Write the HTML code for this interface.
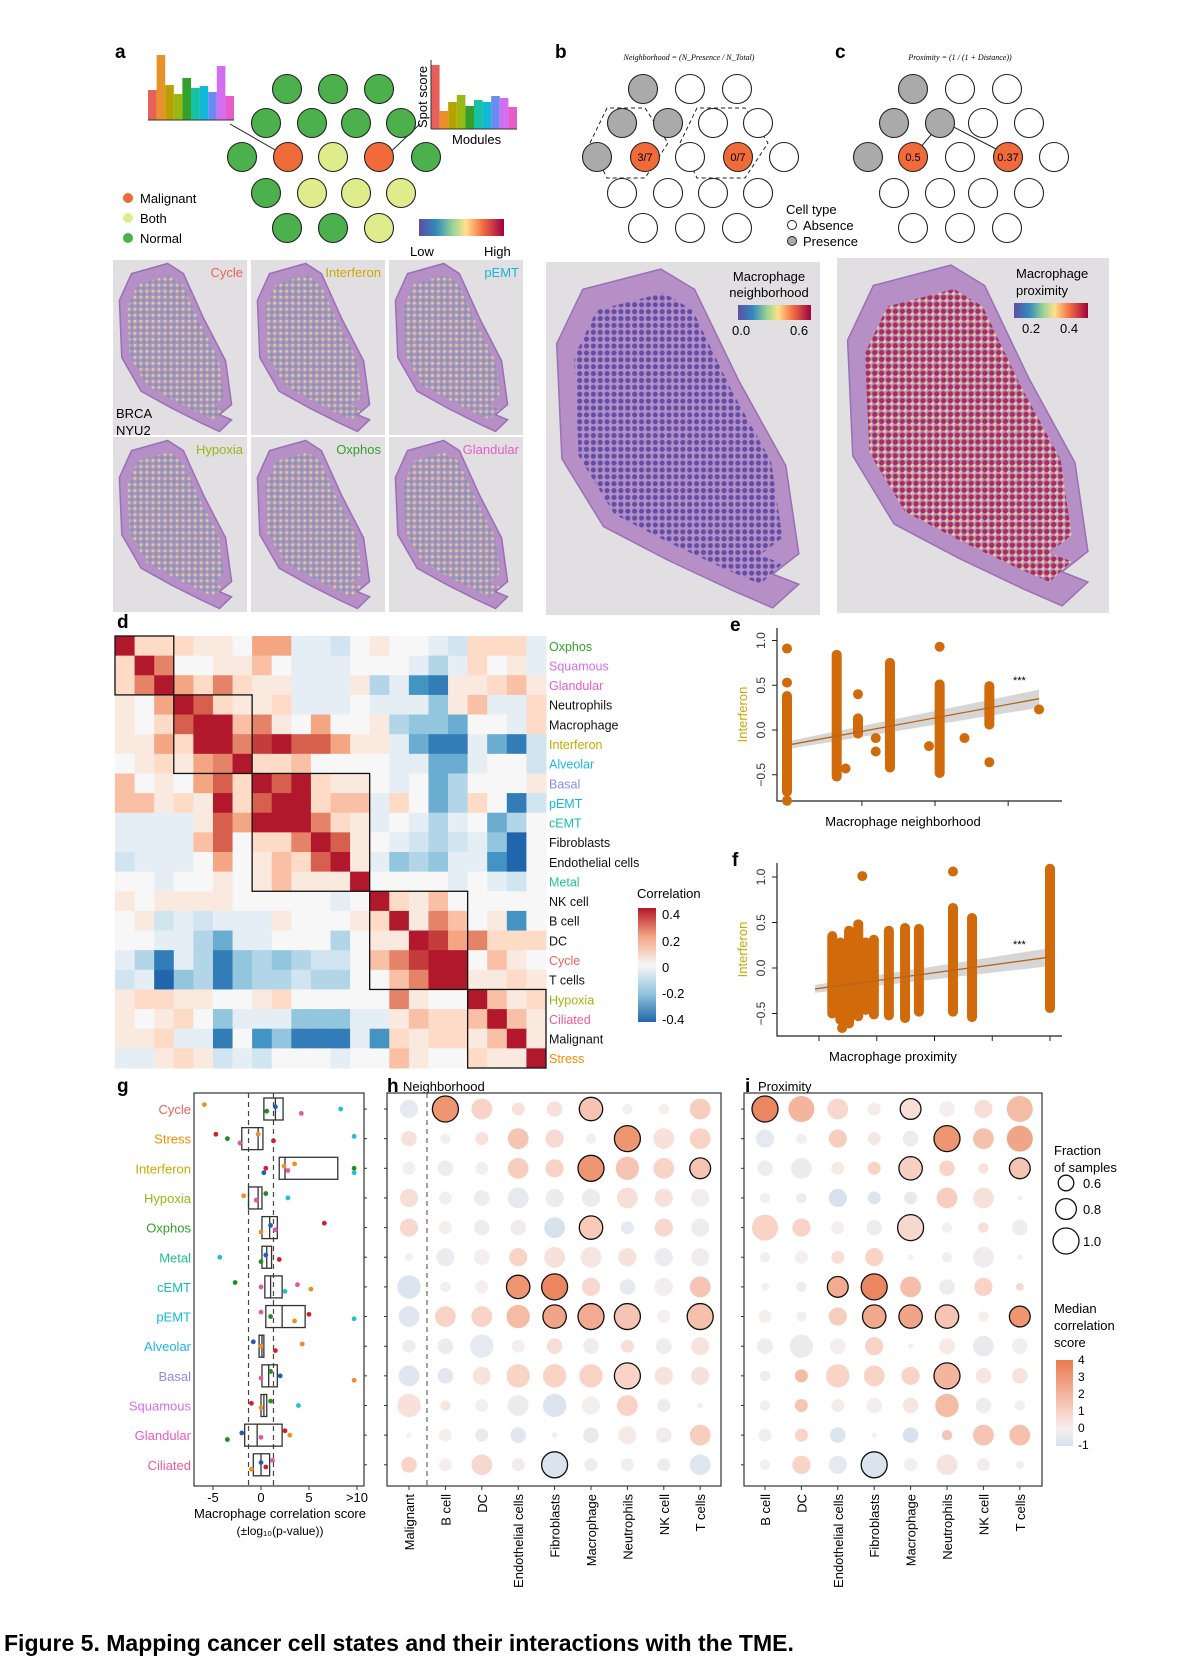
<!DOCTYPE html>
<html><head><meta charset="utf-8"><style>
html,body{margin:0;padding:0;background:#fff}
svg{display:block;font-family:"Liberation Sans",Arial,sans-serif}
</style></head><body>
<svg id="fig" width="1187" height="1671" viewBox="0 0 1187 1671" xmlns="http://www.w3.org/2000/svg">
<defs>
<pattern id="pa" width="7" height="7" patternUnits="userSpaceOnUse"><circle cx="2" cy="2" r="1.6" fill="#e8e27a"/><circle cx="5.5" cy="5.5" r="1.6" fill="#3fae9a"/></pattern>
<pattern id="pb" width="8" height="8" patternUnits="userSpaceOnUse"><circle cx="3" cy="3" r="3" fill="#4b3fa0"/></pattern>
<pattern id="pc" width="8" height="8" patternUnits="userSpaceOnUse"><circle cx="3" cy="3" r="3" fill="#a8123f"/><circle cx="7" cy="7" r="2.5" fill="#f0e27a"/></pattern>
<linearGradient id="rainbow" x1="0" x2="1" y1="0" y2="0"><stop offset="0" stop-color="#5e4fa2"/><stop offset="0.2" stop-color="#3288bd"/><stop offset="0.4" stop-color="#99d594"/><stop offset="0.55" stop-color="#fee08b"/><stop offset="0.75" stop-color="#f46d43"/><stop offset="1" stop-color="#9e0142"/></linearGradient>
<linearGradient id="rdbu" x1="0" x2="0" y1="0" y2="1"><stop offset="0" stop-color="#b2182b"/><stop offset="0.25" stop-color="#f4a582"/><stop offset="0.5" stop-color="#f7f7f7"/><stop offset="0.75" stop-color="#92c5de"/><stop offset="1" stop-color="#2166ac"/></linearGradient>
<linearGradient id="medgrad" x1="0" x2="0" y1="0" y2="1"><stop offset="0" stop-color="#e8794e"/><stop offset="0.6" stop-color="#f8d3c6"/><stop offset="0.8" stop-color="#f5eeee"/><stop offset="1" stop-color="#d6e3ef"/></linearGradient>
</defs>

<!-- panel a -->
<text x="115" y="58" font-size="19" font-weight="bold">a</text>
<g>
<rect x="148" y="90" width="8.6" height="30" fill="#e8605a"/><rect x="156.6" y="55" width="8.6" height="65" fill="#e8902a"/><rect x="165.2" y="85" width="8.6" height="35" fill="#b8a000"/><rect x="173.8" y="94" width="8.6" height="26" fill="#9ab812"/><rect x="182.4" y="78" width="8.6" height="42" fill="#33a02c"/><rect x="191" y="88" width="8.6" height="32" fill="#17c2a4"/><rect x="199.6" y="86" width="8.6" height="34" fill="#11b8d8"/><rect x="208.2" y="92" width="8.6" height="28" fill="#6a8cf0"/><rect x="216.8" y="66" width="8.6" height="54" fill="#d36ef0"/><rect x="225.4" y="96" width="8.6" height="24" fill="#e75cc8"/>
<line x1="148" y1="120" x2="234" y2="120" stroke="#333"/></g>
<g>
<rect x="431" y="65" width="8.6" height="64" fill="#e8605a"/><rect x="439.6" y="111" width="8.6" height="18" fill="#e8902a"/><rect x="448.2" y="102" width="8.6" height="27" fill="#b8a000"/><rect x="456.8" y="95" width="8.6" height="34" fill="#9ab812"/><rect x="465.4" y="106" width="8.6" height="23" fill="#33a02c"/><rect x="474" y="100" width="8.6" height="29" fill="#17c2a4"/><rect x="482.6" y="102" width="8.6" height="27" fill="#11b8d8"/><rect x="491.2" y="96" width="8.6" height="33" fill="#6a8cf0"/><rect x="499.8" y="98" width="8.6" height="31" fill="#d36ef0"/><rect x="508.4" y="107" width="8.6" height="22" fill="#e75cc8"/>
<line x1="431" y1="129" x2="517" y2="129" stroke="#333"/><line x1="431" y1="60" x2="431" y2="129" stroke="#333"/></g>
<text transform="translate(427,128) rotate(-90)" font-size="13">Spot score</text>
<text x="452" y="144" font-size="13">Modules</text>
<line x1="230" y1="124" x2="284" y2="155" stroke="#222"/>
<line x1="420" y1="124" x2="382" y2="160" stroke="#222"/>
<g id="hexA"></g>
<g>
<circle cx="128" cy="198" r="5" fill="#f06a3a"/><text x="140" y="203" font-size="13">Malignant</text>
<circle cx="128" cy="218" r="5" fill="#dfec8c"/><text x="140" y="223" font-size="13">Both</text>
<circle cx="128" cy="238" r="5" fill="#4cb04c"/><text x="140" y="243" font-size="13">Normal</text></g>
<rect x="419" y="219" width="85" height="17" fill="url(#rainbow)"/>
<text x="410" y="256" font-size="13">Low</text>
<text x="484" y="256" font-size="13">High</text>

<!-- panel b -->
<text x="555" y="58" font-size="19" font-weight="bold">b</text>
<text x="689" y="60" font-size="8" font-style="italic" font-family="Liberation Serif,serif" text-anchor="middle">Neighborhood = (N_Presence / N_Total)</text>
<path d="M590,143 L607,108 L645,108 L668,143 L645,178 L607,178 Z M680,143 L697,108 L745,108 L768,143 L745,178 L697,178 Z" fill="none" stroke="#222" stroke-dasharray="4,3"/>
<g id="hexB"></g>
<g>
<text x="786" y="214" font-size="13">Cell type</text>
<circle cx="792" cy="225" r="4.5" fill="#fff" stroke="#222"/><text x="803" y="230" font-size="13">Absence</text>
<circle cx="792" cy="241" r="4.5" fill="#aaa" stroke="#222"/><text x="803" y="246" font-size="13">Presence</text></g>

<!-- panel c -->
<text x="835" y="58" font-size="19" font-weight="bold">c</text>
<text x="960" y="60" font-size="8" font-style="italic" font-family="Liberation Serif,serif" text-anchor="middle">Proximity = (1 / (1 + Distance))</text>
<line x1="940" y1="124" x2="920" y2="148" stroke="#222"/>
<line x1="944" y1="122" x2="998" y2="150" stroke="#222"/>
<g id="hexC"></g>

<!-- tissue images -->
<g id="tissues"></g>

<!-- heatmap d -->
<text x="117" y="628" font-size="19" font-weight="bold">d</text>
<g id="heat"></g>
<g>
<text x="637" y="898" font-size="13">Correlation</text>
<rect x="638" y="908" width="18" height="114" fill="url(#rdbu)"/>
<text x="662" y="919" font-size="13">0.4</text><text x="662" y="946" font-size="13">0.2</text><text x="662" y="972" font-size="13">0</text><text x="662" y="998" font-size="13">-0.2</text><text x="662" y="1024" font-size="13">-0.4</text></g>

<!-- scatter e,f -->
<text x="730" y="631" font-size="19" font-weight="bold">e</text>
<text x="732" y="866" font-size="19" font-weight="bold">f</text>
<g id="scE"></g>
<g id="scF"></g>

<!-- g h i -->
<text x="117" y="1092" font-size="19" font-weight="bold">g</text>
<text x="387" y="1092" font-size="19" font-weight="bold">h</text>
<text x="403" y="1091" font-size="13">Neighborhood</text>
<text x="745" y="1092" font-size="19" font-weight="bold">i</text>
<text x="758" y="1091" font-size="13">Proximity</text>
<g id="boxg"></g>
<g id="doth"></g>
<g id="doti"></g>
<g>
<text x="1054" y="1155" font-size="13">Fraction</text><text x="1054" y="1172" font-size="13">of samples</text>
<circle cx="1066" cy="1183" r="7.8" fill="none" stroke="#111" stroke-width="1.3"/><text x="1083" y="1188" font-size="13">0.6</text>
<circle cx="1066" cy="1209" r="10.4" fill="none" stroke="#111" stroke-width="1.3"/><text x="1083" y="1214" font-size="13">0.8</text>
<circle cx="1066" cy="1241" r="13" fill="none" stroke="#111" stroke-width="1.3"/><text x="1083" y="1246" font-size="13">1.0</text></g>
<g>
<text x="1054" y="1313" font-size="13">Median</text><text x="1054" y="1330" font-size="13">correlation</text><text x="1054" y="1347" font-size="13">score</text>
<rect x="1056" y="1360" width="17" height="86" fill="url(#medgrad)"/>
<text x="1078" y="1364" font-size="12">4</text><text x="1078" y="1381" font-size="12">3</text><text x="1078" y="1398" font-size="12">2</text><text x="1078" y="1415" font-size="12">1</text><text x="1078" y="1432" font-size="12">0</text><text x="1078" y="1449" font-size="12">-1</text></g>

<text x="4" y="1651" font-size="23" font-weight="bold">Figure 5. Mapping cancer cell states and their interactions with the TME.</text>
</svg>
<script>
const NS='http://www.w3.org/2000/svg';
function mk(t,p,a){const e=document.createElementNS(NS,t);for(const k in a)e.setAttribute(k,a[k]);p.appendChild(e);return e;}
function txt(p,x,y,s,a){const e=mk('text',p,Object.assign({x:x,y:y},a||{}));e.textContent=s;return e;}

/* ---------- hexagon spot diagrams ---------- */
const hexRowsY=[89,123,157,193,228];
const hexA=[[287,333,379],[266,312,356,401],[242,288,333,379,426],[266,312,356,401],[287,333,379]];
const hexAcol=[['g','g','g'],['g','g','g','g'],['g','m','b','m','g'],['g','b','b','b'],['g','g','b']];
const hexB=[[643,690,737],[622,668,713,758],[597,645,690,738,784],[622,668,713,758],[643,690,737]];
const hexC=[[913,960,1007],[894,940,983,1029],[868,913,960,1008,1054],[894,940,983,1029],[913,960,1007]];
const hexBCcol=[['p','w','w'],['p','p','w','w'],['p','m','w','m','w'],['w','w','w','w'],['w','w','w']];
const hexBlabels={'2-1':'3/7','2-3':'0/7'};
const hexClabels={'2-1':'0.5','2-3':'0.37'};
const fillMap={g:'#4cb04c',m:'#f06a3a',b:'#dfec8c',p:'#aaaaaa',w:'#ffffff'};
function drawHex(id,xs,cols,labels){
  const g=document.getElementById(id);
  xs.forEach((row,i)=>row.forEach((x,j)=>{
    const c=mk('circle',g,{cx:x,cy:hexRowsY[i],r:14.5,fill:fillMap[cols[i][j]],stroke:'#222','stroke-width':1.1});
    
    
    const L=labels&&labels[i+'-'+j];
    if(L){const t=txt(g,x,hexRowsY[i]+4,L,{'font-size':11,'text-anchor':'middle'});
      
      }
  }));
}
drawHex('hexA',hexA,hexAcol,null);
drawHex('hexB',hexB,hexBCcol,hexBlabels);
drawHex('hexC',hexC,hexBCcol,hexClabels);

/* ---------- tissue images ---------- */
const blob=[[0.12,0.06],[0.42,0.0],[0.55,0.06],[0.72,0.33],[0.9,0.58],[0.95,0.84],[0.85,0.9],[0.95,0.93],[0.85,1.0],[0.7,0.95],[0.45,0.86],[0.2,0.76],[0.04,0.56],[0.02,0.22]];
function tissue(x,y,w,h,pat,inset){
  const g=document.getElementById('tissues');
  const bg=mk('rect',g,{x:x,y:y,width:w,height:h,fill:'#e2dfe2'});
  
  
  const ix=x+w*inset[0],iy=y+h*inset[1],iw=w*inset[2],ih=h*inset[3];
  const d='M'+blob.map(p=>(ix+p[0]*iw).toFixed(1)+','+(iy+p[1]*ih).toFixed(1)).join(' L')+' Z';
  const t=mk('path',g,{d:d,fill:'#b58fc6',stroke:'#9a70b5','stroke-width':1.5});
  
  
  const s=mk('path',g,{d:d,fill:'url(#'+pat+')',opacity:0.8,transform:'translate('+(ix+iw/2)+','+(iy+ih/2)+') scale(0.86) translate('+(-(ix+iw/2))+','+(-(iy+ih/2))+')'});
  
  
}
const smallX=[113,251,389],smallY=[260,437],smallW=136,smallH=177;
const smallLabels=[['Cycle','#f0605a'],['Interferon','#c9a800'],['pEMT','#11b8d8'],['Hypoxia','#9ab812'],['Oxphos','#33a02c'],['Glandular','#e75cc8']];
smallY.forEach((yy,r)=>smallX.forEach((xx,c)=>{
  tissue(xx,yy,smallW-2,smallH-2,'pa',[0.03,0.02,0.9,0.96]);
  const L=smallLabels[r*3+c];
  const t=txt(document.getElementById('tissues'),xx+smallW-6,yy+17,L[0],{'font-size':13,'text-anchor':'end',fill:L[1]});
  
  
}));
(function(){const g=document.getElementById('tissues');
 const a=txt(g,116,418,'BRCA',{'font-size':13});
 const b=txt(g,116,435,'NYU2',{'font-size':13});})();
tissue(546,262,274,353,'pb',[0.02,0.02,0.95,0.96]);
tissue(837,258,272,355,'pc',[0.02,0.02,0.95,0.96]);
(function(){const g=document.getElementById('tissues');
 const items=[[769,281,'Macrophage','middle'],[769,297,'neighborhood','middle'],[1016,278,'Macrophage','start'],[1016,295,'proximity','start']];
 items.forEach(it=>{const t=txt(g,it[0],it[1],it[2],{'font-size':13,'text-anchor':it[3]});});
 const r1=mk('rect',g,{x:738,y:305,width:73,height:15,fill:'url(#rainbow)'});
 const r2=mk('rect',g,{x:1014,y:303,width:74,height:15,fill:'url(#rainbow)'});
 [[732,335,'0.0'],[790,335,'0.6'],[1022,333,'0.2'],[1060,333,'0.4']].forEach(it=>{const t=txt(g,it[0],it[1],it[2],{'font-size':13});});
})();

/* ---------- heatmap d ---------- */
const heatLabels=['Oxphos','Squamous','Glandular','Neutrophils','Macrophage','Interferon','Alveolar','Basal','pEMT','cEMT','Fibroblasts','Endothelial cells','Metal','NK cell','B cell','DC','Cycle','T cells','Hypoxia','Ciliated','Malignant','Stress'];
const heatLabelColors=['#33a02c','#d36ef0','#e75cc8','#111','#111','#c9a800','#1fb5e8','#8c8cf0','#11b8d8','#17c2a4','#111','#111','#22c08f','#111','#111','#111','#f0605a','#111','#9ab812','#f05a9a','#111','#f08c00'];
// correlation x10
const heatValues=[
[4,1,1,1,0.5,0.5,0,2,2,-0.5,-0.5,-1,0,0.5,0,0,-0.5,-1,1,1,1,-0.5],
[1,4,2.5,0,0,0.5,0.5,1.5,0,-0.5,-0.5,-0.5,0,0,0,-0.5,-1.5,-0.5,1,0,0.5,-0.5],
[1,2.5,4,2,1,2.5,1,0.5,0.5,-0.5,-0.5,-0.5,0.5,-1.5,-0.5,-3,-3.5,0.5,0.5,1,1.5,0.5],
[0.5,0,2,4,3,1,0.5,0.5,1,-0.5,-0.5,-0.5,0,-0.5,-0.5,-0.5,-2,0.5,1.5,-0.5,-0.5,1],
[0.5,0,1,3,4,4,1.5,2.5,0.5,0,2,0,0,0.5,-1.5,-2,-2,-2.5,0,0,-0.5,1],
[0.5,0.5,2,1,4,4,2.5,3.5,4,3,3,2,0.5,0.5,-0.5,-2.5,-3.5,-3.5,-0.5,-2.5,-3.5,-1],
[0,0.5,1,0.5,2,2.5,4,1,1,1.5,0,0,0,0,-0.5,-0.5,-2.5,-2.5,-0.5,0,0,-1],
[1.5,0,0.5,0,2,3,1,4,3,4,1,0.5,0.5,0,-0.5,0,-2.5,-1.5,0,0,0,0.5],
[1.5,1.5,0.5,1,0.5,4,1,3,4,4,1,1.5,1.5,-0.5,1,0,-2.5,-1.5,1,0,-3.5,-1],
[-0.5,-0.5,-0.5,-0.5,0.5,3,2,4,4,4,2.5,1,0.5,-0.5,0,-0.5,-1.5,-0.5,0,-2.5,-1.5,0],
[-0.5,-0.5,-0.5,-0.5,1.5,3,0,1,1,2.5,4,3,0.5,0,-0.5,-1,-1.5,-1,-0.5,-2,-4,0],
[-1,-0.5,-0.5,-0.5,0,2,0,0.5,1.5,1,3,4,0.5,-0.5,-2,-1.5,-2,-0.5,-0.5,-3,-4,0],
[0,0,-0.5,0,0,0.5,0,0.5,1.5,0.5,0.5,0.5,4,0,0,0,0,-0.5,0,-0.5,-1,0],
[0.5,0,0.5,0.5,0.5,0.5,0,0,0,0,0,-0.5,0,4,1,0.5,1.5,0,0,0,0,0],
[0,0.5,-1,-0.5,-1,-0.5,-0.5,-0.5,0.5,0,0,0,0.5,1,4,0.5,2.5,1.5,0,0.5,-3,0],
[0,0,-0.5,-0.5,-1.5,-2.5,-0.5,-0.5,0,0,0,-1.5,0,0.5,0.5,4,3.5,2,2.5,1,1,1],
[-0.5,-1.5,-3.5,-0.5,-1.5,-3.5,-2,-1.5,-2,-1.5,-1,-1,0,1.5,2.5,3.5,4,4,0,1.5,0.5,0],
[-1,-0.5,-4,-2,-1.5,-3.5,-2,-1.5,-1.5,-1,-1.5,-1.5,0,0,1.5,2.5,4,4,0.5,0.5,1,0.5],
[0.5,1,1,0.5,0.5,0,0,0.5,1,0,0,0,0,0,2.5,0.5,0,0,4,1.5,0.5,1],
[0.5,0,0.5,1,0,-2,-0.5,-0.5,-0.5,-2,-2,-2,-0.5,-0.5,0.5,1.5,1,1,1.5,4,1.5,0.5],
[0.5,0.5,1,-0.5,-0.5,-3.5,0,-3,-2,-3.5,-3.5,-3.5,-0.5,-3,1,0.5,1,1,0.5,1.5,4,0.5],
[-0.5,-0.5,0.5,1,0.5,-1,-0.5,-1,0,0,0,-0.5,0,0,1.5,0.5,0,0,1,0.5,0.5,4]];
const heatBlocks=[[0,2],[3,6],[7,12],[13,17],[18,21]];
const rdbuStops=[[-4,[33,102,172]],[-3,[67,147,195]],[-2,[146,197,222]],[-1,[209,229,240]],[0,[247,247,247]],[1,[253,219,199]],[2,[244,165,130]],[3,[214,96,77]],[4,[178,24,43]]];
function rdbu(v){v=Math.max(-4,Math.min(4,v));for(let i=0;i<rdbuStops.length-1;i++){const a=rdbuStops[i],b=rdbuStops[i+1];if(v<=b[0]){const t=(v-a[0])/(b[0]-a[0]);return 'rgb('+a[1].map((c,k)=>Math.round(c+(b[1][k]-c)*t)).join(',')+')';}}return 'rgb(178,24,43)';}
(function(){
  const g=document.getElementById('heat');
  const X0=115,Y0=636,W=431,H=432,n=heatLabels.length,cw=W/n,ch=H/n;
  heatValues.forEach((row,i)=>row.forEach((v,j)=>{
    const r=mk('rect',g,{x:X0+j*cw,y:Y0+i*ch,width:cw+0.5,height:ch+0.5,fill:rdbu(v)});
    
    
  }));
  heatBlocks.forEach(b=>{
    const r=mk('rect',g,{x:X0+b[0]*cw,y:Y0+b[0]*ch,width:(b[1]-b[0]+1)*cw,height:(b[1]-b[0]+1)*ch,fill:'none',stroke:'#111','stroke-width':1.3});
    
    
  });
  heatLabels.forEach((l,i)=>{
    const t=txt(g,X0+W+3,Y0+i*ch+ch/2+5,l,{'font-size':12.5,fill:heatLabelColors[i]});
    
    
  });
})();

/* ---------- scatter e ---------- */
const eStripX=[0,0.14,0.2,0.29,0.43,0.57];
const eStripLo=[-0.69,-0.52,-0.04,-0.42,-0.48,0.06];
const eStripHi=[0.38,0.84,0.13,0.75,0.51,0.49];
const ePointX=[0,0,0,0.165,0.2,0.25,0.25,0.4,0.43,0.5,0.57,0.71];
const ePointY=[0.91,0.53,-0.79,-0.43,0.4,-0.09,-0.24,-0.18,0.93,-0.09,-0.36,0.23];
const eFit=[[0.014,-0.16],[0.71,0.35]];
const eYTicks=[-0.5,0,0.5,1.0];
const eXTicks=[0.211,0.417,0.623];
/* ---------- scatter f ---------- */
const fStripX=[0.123,0.137,0.152,0.168,0.181,0.195,0.221,0.249,0.273,0.332,0.365,0.5];
const fStripLo=[-0.5,-0.57,-0.61,-0.53,-0.46,-0.51,-0.52,-0.55,-0.48,-0.48,-0.54,-0.44];
const fStripHi=[0.35,0.28,0.41,0.48,0.28,0.31,0.41,0.44,0.43,0.66,0.55,1.09];
const fPointX=[0.175,0.332,0.14];
const fPointY=[1.01,1.06,-0.66];
const fFit=[[0.093,-0.23],[0.5,0.12]];
const fYTicks=[-0.5,0,0.5,1.0];
const fXTicks=[0.1,0.2,0.3,0.4,0.5];
function scatter(id,o){
  const g=document.getElementById(id);
  const sx=v=>o.x0+(v-o.d0)*o.kx, sy=v=>o.y0-v*o.ky;
  const ax=mk('path',g,{d:'M'+o.axL+','+o.top+' V'+o.bot+' H'+o.axR,fill:'none',stroke:'#222','stroke-width':1.2});
  
  
  o.yt.forEach(v=>{
    const l=mk('line',g,{x1:o.axL-5,x2:o.axL,y1:sy(v),y2:sy(v),stroke:'#222'});
    
    
    const t=txt(g,0,0,v===0?'0.0':(v<0?'\u22120.5':v.toFixed(1)),{'font-size':12,'text-anchor':'middle',transform:'translate('+(o.axL-12)+','+sy(v)+') rotate(-90)',fill:'#333'});
    
    
  });
  o.xt.forEach(v=>{
    const l=mk('line',g,{x1:sx(v),x2:sx(v),y1:o.bot,y2:o.bot+5,stroke:'#222'});
    
    
  });
  const x1=sx(o.fit[0][0]),y1=sy(o.fit[0][1]),x2=sx(o.fit[1][0]),y2=sy(o.fit[1][1]);
  const band=mk('path',g,{d:'M'+x1+','+(y1-4)+' L'+x2+','+(y2-9)+' L'+x2+','+(y2+9)+' L'+x1+','+(y1+4)+' Z',fill:'#bbb',opacity:0.6});
  
  
  o.sX.forEach((v,i)=>{
    const l=mk('line',g,{x1:sx(v),x2:sx(v),y1:sy(o.sLo[i]),y2:sy(o.sHi[i]),stroke:'#d06a0a','stroke-width':10,'stroke-linecap':'round'});
    
    
  });
  o.pX.forEach((v,i)=>{
    const c=mk('circle',g,{cx:sx(v),cy:sy(o.pY[i]),r:5,fill:'#d06a0a'});
    
    
  });
  const fl=mk('line',g,{x1:x1,y1:y1,x2:x2,y2:y2,stroke:'#b8651a','stroke-width':1.3});
  
  
  const st=txt(g,o.starX,o.starY,'***',{'font-size':11});
  
  
  const yl=txt(g,0,0,'Interferon',{'font-size':13,fill:'#c9a800','text-anchor':'middle',transform:'translate('+(o.axL-30)+','+((o.top+o.bot)/2)+') rotate(-90)'});
  
  
  const xl=txt(g,o.xlabX,o.bot+25,o.xlab,{'font-size':13,'text-anchor':'middle'});
  
  
}
scatter('scE',{x0:787,d0:0,kx:355,y0:730,ky:89.5,axL:777,axR:1062,top:628,bot:801,yt:eYTicks,xt:eXTicks,sX:eStripX,sLo:eStripLo,sHi:eStripHi,pX:ePointX,pY:ePointY,fit:eFit,starX:1013,starY:684,xlab:'Macrophage neighborhood',xlabX:903});
scatter('scF',{x0:819,d0:0.1,kx:577.5,y0:968,ky:91,axL:777,axR:1062,top:863,bot:1036,yt:fYTicks,xt:fXTicks,sX:fStripX,sLo:fStripLo,sHi:fStripHi,pX:fPointX,pY:fPointY,fit:fFit,starX:1013,starY:948,xlab:'Macrophage proximity',xlabX:893});

/* ---------- g boxplot ---------- */
const gRows=['Cycle','Stress','Interferon','Hypoxia','Oxphos','Metal','cEMT','pEMT','Alveolar','Basal','Squamous','Glandular','Ciliated'];
const gRowColors=['#f0605a','#f08c00','#c9a800','#9ab812','#33a02c','#22c08f','#17c2a4','#11b8d8','#1fb5e8','#8c8cf0','#d36ef0','#e75cc8','#f05a9a'];
const gQ1=[0.3,-2.0,1.9,-1.3,0.1,0.1,0.4,0.5,-0.2,0.1,0.0,-1.7,-0.8];
const gMed=[1.5,-0.3,2.5,-0.3,0.9,0.6,1.0,2.2,0.1,0.8,0.3,-0.4,0.0];
const gQ3=[2.3,0.2,8.0,0.1,1.7,1.1,2.2,4.6,0.3,1.7,0.6,2.2,0.9];
const gPtRow=[0,0,0,0,0,1,1,1,1,1,1,2,2,2,2,2,2,2,3,3,3,3,4,4,4,4,5,5,5,5,6,6,6,6,6,7,7,7,7,7,8,8,8,8,9,9,9,9,10,10,10,10,11,11,11,11,11,12,12,12,12];
const gPtVal=[-5.9,8.3,4.2,1.5,0.6,-4.7,-3.5,-2.2,9.7,1.3,-0.3,0.5,0.3,2.4,2.8,3.5,9.7,9.7,-1.8,-0.5,0.5,2.8,0.0,1.0,1.5,6.6,-4.3,0.0,0.5,1.9,-2.7,0.0,2.5,3.8,5.2,0.0,1.0,3.5,5.0,9.7,-0.8,0.0,1.5,4.3,0.0,1.0,2.0,9.7,-1.0,0.0,1.0,3.9,-3.5,-2.0,0.0,2.5,3.0,-1.0,0.0,0.5,1.2];
const gPtCol=['#e8902a','#22c0d0','#e05aa0','#1f5fae','#228b22','#d0202a','#228b22','#e05aa0','#22c0d0','#d0202a','#e8902a','#d0202a','#1f5fae','#e8902a','#e05aa0','#e8902a','#228b22','#22c0d0','#e8902a','#e05aa0','#228b22','#22c0d0','#e8902a','#1f5fae','#e05aa0','#d0202a','#22c0d0','#228b22','#1f5fae','#d0202a','#228b22','#e05aa0','#22c0d0','#e05aa0','#e8902a','#e05aa0','#228b22','#e8902a','#d0202a','#22c0d0','#1f5fae','#e8902a','#d0202a','#e8902a','#e05aa0','#228b22','#1f5fae','#e8902a','#d0202a','#e8902a','#228b22','#22c0d0','#228b22','#1f5fae','#e05aa0','#d0202a','#e8902a','#e8902a','#1f5fae','#d0202a','#e05aa0'];
const gXTicks=[-5,0,5,10];
const gXTickLabels=['-5','0','5','>10'];
const rowY=i=>1109+i*29.65;
(function(){
  const g=document.getElementById('boxg');
  const sx=v=>261+v*9.6;
  const fr=mk('rect',g,{x:194,y:1093,width:170,height:393,fill:'none',stroke:'#333','stroke-width':1.2});
  
  
  [-1.3,1.3].forEach(v=>{
    const l=mk('line',g,{x1:sx(v),x2:sx(v),y1:1093,y2:1486,stroke:'#444','stroke-dasharray':'5,4','stroke-width':1.2});
    
    
  });
  gRows.forEach((r,i)=>{
    const y=rowY(i);
    const t=txt(g,191,y+5,r,{'font-size':13,'text-anchor':'end',fill:gRowColors[i]});
    
    
    const b=mk('rect',g,{x:sx(gQ1[i]),y:y-11,width:sx(gQ3[i])-sx(gQ1[i]),height:22,fill:'none',stroke:'#333','stroke-width':1.3});
    
    
    const m=mk('line',g,{x1:sx(gMed[i]),x2:sx(gMed[i]),y1:y-11,y2:y+11,stroke:'#333','stroke-width':1.3});
    
    
    const tk=mk('line',g,{x1:364,x2:367,y1:y,y2:y,stroke:'#333'});
    
    
  });
  gPtVal.forEach((v,k)=>{
    const jit=((k*7)%5-2)*2.2;
    const c=mk('circle',g,{cx:sx(v),cy:rowY(gPtRow[k])+jit,r:2.4,fill:gPtCol[k]});
    
    
  });
  gXTicks.forEach((v,k)=>{
    const l=mk('line',g,{x1:sx(v),x2:sx(v),y1:1486,y2:1490,stroke:'#333'});
    
    
    const t=txt(g,sx(v),1502,gXTickLabels[k],{'font-size':13,'text-anchor':'middle'});
    
    
  });
  const a=txt(g,280,1518,'Macrophage correlation score',{'font-size':13,'text-anchor':'middle'});
  
  
  const b=txt(g,280,1535,'(\u00b1log\u2081\u2080(p-value))',{'font-size':12,'text-anchor':'middle'});
  
  
})();

/* ---------- h / i dot plots ---------- */
const hCols=['Malignant','B cell','DC','Endothelial cells','Fibroblasts','Macrophage','Neutrophils','NK cell','T cells'];
const hFrac=[
[0.7,1.0,0.8,0.5,0.6,0.9,0.4,0.4,0.8],[0.6,0.4,0.5,0.8,0.7,0.4,1.0,0.8,0.8],[0.5,0.6,0.5,0.8,0.7,1.0,0.9,0.8,0.8],
[0.7,0.5,0.6,0.8,0.7,0.7,0.8,0.7,0.7],[0.7,0.5,0.6,0.6,0.8,0.9,0.5,0.7,0.7],[0.3,0.7,0.6,0.7,0.8,0.8,0.7,0.7,0.7],
[0.9,0.4,0.5,0.9,1.0,0.7,0.6,0.7,0.8],[0.8,0.8,0.8,0.9,0.9,1.0,1.0,0.5,1.0],[0.5,0.6,0.9,0.5,0.6,0.6,0.5,0.6,0.7],
[0.8,0.6,0.7,0.9,0.9,0.9,1.0,0.7,0.7],[0.9,0.4,0.5,0.8,0.9,0.7,0.8,0.5,0.2],[0.2,0.5,0.5,0.6,0.2,0.6,0.7,0.6,0.8],
[0.6,0.5,0.8,0.5,1.0,0.5,0.5,0.5,0.8]];
const hScore=[
[-0.5,3,1,0.5,0.5,1.5,0,0,1.2],[0.5,0,0.5,1.5,0.7,0,3,0.5,1],[0,-0.2,0,1.2,1,3,1.5,1,1.5],
[0.6,0,-0.2,-0.5,-0.3,-0.3,0.6,0.5,-0.1],[0.8,0,-0.2,-0.2,-1,1.3,-0.5,0.8,-0.2],[0,-0.3,0,1,0.5,0.3,0.5,-0.3,-0.2],
[-0.8,0,0,3,3.5,0.8,-0.5,-0.1,1.5],[-0.7,1,1,1.8,2.5,2.3,1.5,0,1.6],[-0.2,-0.3,-0.5,0,0.6,-0.2,0.6,-0.2,0.4],
[-0.7,-0.6,0.4,1,1,1,1,0.4,0.5],[0.5,0.3,0,-0.3,-0.8,0,1,-0.3,0],[0,0,-0.4,-0.6,0,-0.4,0.2,-0.2,1.2],
[1,0,0.8,-0.2,-0.9,-0.2,-0.1,-0.3,-0.7]];
const hSig=[[1,5],[6],[5,8],[],[5],[],[3,4],[4,5,6,8],[],[6],[],[],[4]];
const iCols=['B cell','DC','Endothelial cells','Fibroblasts','Macrophage','Neutrophils','NK cell','T cells'];
const iFrac=[
[1.0,1.0,0.8,0.5,0.8,0.6,0.7,1.0],[0.7,0.4,0.7,0.5,0.6,1.0,0.8,1.0],[0.6,0.8,0.5,0.5,0.9,0.6,0.4,0.8],
[0.4,0.4,0.7,0.5,0.5,0.8,0.8,0.2],[1.0,0.7,0.5,0.6,1.0,0.4,0.4,0.6],[0.4,0.5,0.5,0.7,0.2,0.4,0.8,0.2],
[0.3,0.4,0.8,1.0,0.8,0.6,0.7,0.3],[0.5,0.4,0.7,0.9,0.9,0.9,0.4,0.8],[0.6,0.9,0.6,0.7,0.2,0.6,0.8,0.6],
[0.4,0.5,0.9,0.8,0.7,1.0,0.6,0.6],[0.4,0.5,0.5,0.6,0.6,0.9,0.6,0.4],[0.5,0.5,0.6,0.2,0.6,0.4,0.8,0.8],
[0.4,0.7,0.7,1.0,0.5,0.8,0.5,0.3]];
const iScore=[
[3.5,2,0.8,0.1,0.6,0,0.6,1.8],[-0.5,0,1.2,0.3,-0.3,3,1.6,2.5],[-0.2,-0.3,0.2,1,1.1,1,0.5,1.5],
[0,-0.3,-1,-0.8,-0.5,1.2,0.5,0],[1,1,0,-0.2,0.8,0,0.6,-0.2],[0,0,0.6,1,0,0,-0.2,0],
[0,-0.2,2.3,3.5,1.7,-0.3,1,0.8],[0,0,1.2,2.4,2.5,1.5,0,3],[-0.2,-0.3,0,1,0,0.2,-0.4,-0.1],
[-0.2,1.8,1,1,1,2,0.3,0.4],[0,1.5,0.1,-0.1,0.3,1.8,-0.2,0],[-0.1,1,-0.8,0,-1,1.5,1.5,1.6],
[0,1,-0.5,-0.9,-0.1,0.4,-0.2,0]];
const iSig=[[0,4],[5],[4,7],[],[4],[],[2,3],[3,4,5,7],[],[5],[],[],[3]];
const medStops=[[-1,[214,227,239]],[0,[245,238,238]],[1,[248,211,198]],[2,[243,181,157]],[3,[238,149,114]],[4,[232,121,78]]];
function medCol(v){v=Math.max(-1,Math.min(4,v));for(let i=0;i<medStops.length-1;i++){const a=medStops[i],b=medStops[i+1];if(v<=b[0]){const t=(v-a[0])/(b[0]-a[0]);return 'rgb('+a[1].map((c,k)=>Math.round(c+(b[1][k]-c)*t)).join(',')+')';}}return 'rgb(232,121,78)';}
function dotplot(id,left,right,x0,dx,cols,frac,score,sig,dash){
  const g=document.getElementById(id);
  const fr=mk('rect',g,{x:left,y:1093,width:right-left,height:393,fill:'none',stroke:'#333','stroke-width':1.2});
  
  
  if(dash){const d=mk('line',g,{x1:dash,x2:dash,y1:1093,y2:1486,stroke:'#444','stroke-dasharray':'5,4'});
    
    }
  gRows.forEach((r,i)=>{
    const tk=mk('line',g,{x1:left-3,x2:left,y1:rowY(i),y2:rowY(i),stroke:'#333'});
    
    
    cols.forEach((c,j)=>{
      const isSig=sig[i].indexOf(j)>=0;
      const e=mk('circle',g,{cx:x0+j*dx,cy:rowY(i),r:13*frac[i][j],fill:medCol(score[i][j]),stroke:isSig?'#111':'none','stroke-width':1.3});
      
      
    });
  });
  cols.forEach((c,j)=>{
    const x=x0+j*dx;
    const tk=mk('line',g,{x1:x,x2:x,y1:1486,y2:1490,stroke:'#333'});
    
    
    const t=txt(g,0,0,c,{'font-size':13,'text-anchor':'end',transform:'translate('+(x+5)+',1494) rotate(-90)'});
    
    
  });
}
dotplot('doth',387,721,409,36.4,hCols,hFrac,hScore,hSig,427);
dotplot('doti',744,1042,765,36.4,iCols,iFrac,iScore,iSig,0);
</script>
</body></html>
